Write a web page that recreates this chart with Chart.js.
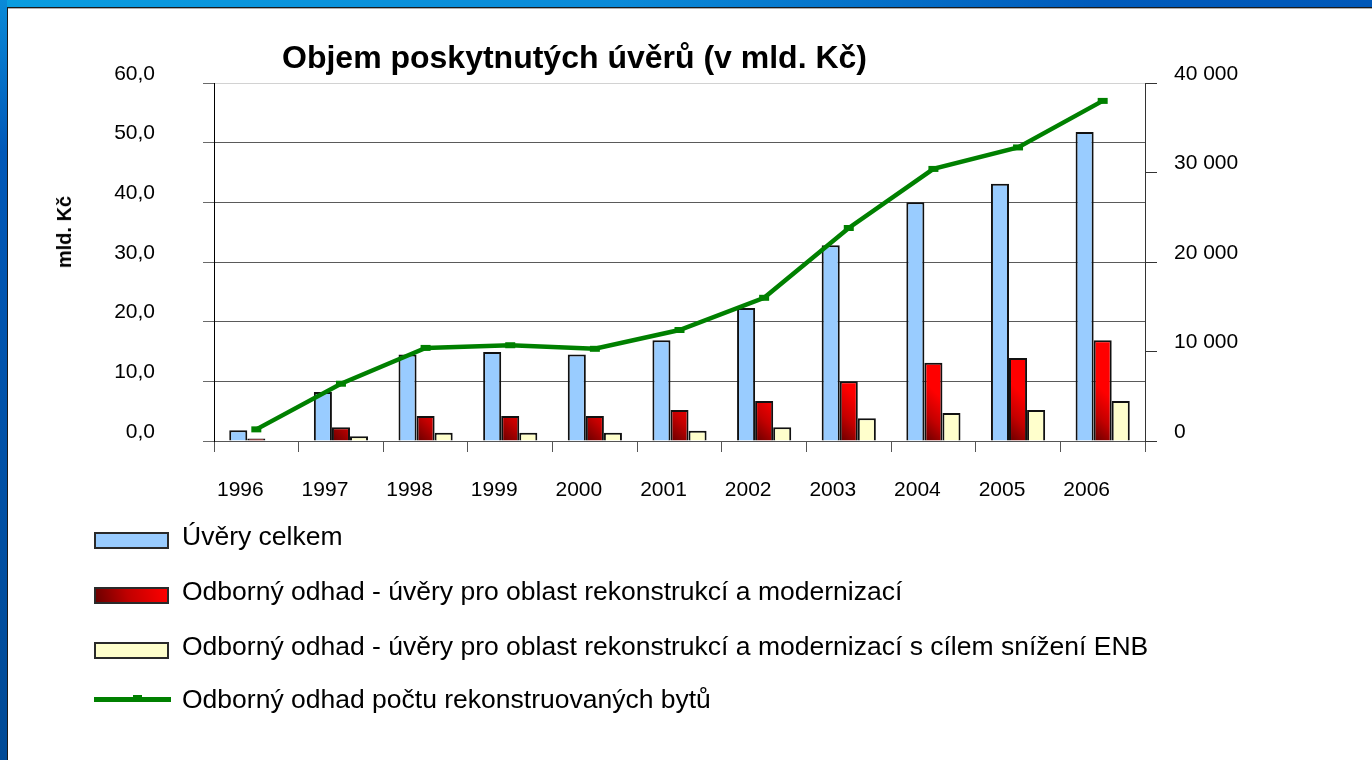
<!DOCTYPE html>
<html>
<head>
<meta charset="utf-8">
<script src="https://cdn.jsdelivr.net/npm/chart.js@4/dist/chart.umd.min.js"></script>
<style>
  html, body { margin: 0; padding: 0; width: 1372px; height: 760px; overflow: hidden; font-family: "Liberation Sans", Arial, sans-serif; }
  #frame { position: absolute; left: 0; top: 0; width: 1372px; height: 760px; }
  #topband { position: absolute; left: 0; top: 0; width: 1372px; height: 7px; background: linear-gradient(to right, #0a9de0 0%, #0a8ad8 45%, #005bbb 80%, #0058b8 100%); }
  #leftband { position: absolute; left: 0; top: 0; width: 7px; height: 760px; background: linear-gradient(to bottom, #0a8ad8 0%, #0058b8 20%, #004a96 100%); }
  #panel { position: absolute; left: 7px; top: 7px; right: 0; bottom: 0; background: #fff; border-top: 1px solid #1a1a1a; border-left: 1px solid #1a1a1a; box-shadow: inset 0 1px 0 #b0b0b0; }
  #chart { position: absolute; left: 0; top: 0; }
  .title { position: absolute; left: 282px; top: 41px; font-weight: bold; font-size: 32px; line-height: 32px; white-space: nowrap; color: #000; }
  .ytitle { position: absolute; left: 64px; top: 232px; font-weight: bold; font-size: 20px; line-height: 20px; white-space: nowrap; transform: translate(-50%, -50%) rotate(-90deg); color: #000; }
  .sw { position: absolute; left: 94px; width: 75px; height: 17px; border: 2px solid #2a2a2a; box-sizing: border-box; }
  .lt { position: absolute; left: 182px; font-size: 26.5px; line-height: 26px; white-space: nowrap; color: #000; }
  .ln { position: absolute; left: 94px; width: 77px; height: 5px; background: #008000; }
  .lnm { position: absolute; left: 133px; width: 9px; height: 7px; background: #008000; }
</style>
</head>
<body>
<div id="frame">
  <div id="topband"></div>
  <div id="leftband"></div>
  <div id="panel"></div>
</div>
<canvas id="chart" width="1372" height="760"></canvas>
<div class="title">Objem poskytnutých úvěrů (v mld. Kč)</div>
<div class="ytitle">mld. Kč</div>
<div id="legend"></div>
<script>
// ---- data ----
const years = ['1996', '1997', '1998', '1999', '2000', '2001', '2002', '2003', '2004', '2005', '2006'];
const uveryCelkem = [1.8, 8.2, 14.5, 14.9, 14.5, 16.9, 22.3, 32.8, 40.0, 43.1, 51.8];
const uveryRekonstrukce = [0.4, 2.3, 4.2, 4.2, 4.2, 5.2, 6.7, 10.0, 13.1, 13.9, 16.9];
const uveryENB = [0, 0.8, 1.4, 1.4, 1.4, 1.7, 2.3, 3.8, 4.7, 5.2, 6.7];
const pocetBytu = [1300, 6400, 10400, 10700, 10300, 12400, 16000, 23800, 30400, 32800, 38000];
const leftTicks = [0, 10, 20, 30, 40, 50, 60];
const rightTicks = [0, 10000, 20000, 30000, 40000];
const seriesNames = [
  'Úvěry celkem',
  'Odborný odhad - úvěry pro oblast rekonstrukcí a modernizací',
  'Odborný odhad - úvěry pro oblast rekonstrukcí a modernizací s cílem snížení ENB',
  'Odborný odhad počtu rekonstruovaných bytů'
];

// ---- legend (HTML) ----
const legendRows = [
  { top: 532, text: 523, kind: 'box', style: 'background:#99ccff' },
  { top: 587, text: 578, kind: 'box', style: 'background:linear-gradient(75deg,#6a0000 0%,#c00000 45%,#ff0000 100%)' },
  { top: 642, text: 633, kind: 'box', style: 'background:#ffffcc' },
  { top: 697, text: 686, kind: 'line' }
];
const lg = document.getElementById('legend');
legendRows.forEach((r, i) => {
  if (r.kind === 'box') {
    const d = document.createElement('div');
    d.className = 'sw'; d.style.cssText = 'top:' + r.top + 'px;' + r.style;
    lg.appendChild(d);
  } else {
    const d = document.createElement('div');
    d.className = 'ln'; d.style.top = r.top + 'px'; lg.appendChild(d);
    const m = document.createElement('div');
    m.className = 'lnm'; m.style.top = (r.top - 2) + 'px'; lg.appendChild(m);
  }
  const t = document.createElement('div');
  t.className = 'lt'; t.style.top = r.text + 'px'; t.textContent = seriesNames[i];
  lg.appendChild(t);
});

// ---- chart ----
const FONT = { family: '"Liberation Sans", Arial, sans-serif', size: 21 };

function redGradient(ctx) {
  const chart = ctx.chart;
  if (!chart.chartArea || ctx.type !== 'data') return '#cc0000';
  const xs = chart.scales.x, ys = chart.scales.y;
  const cx = xs.getPixelForValue(ctx.dataIndex);
  const left = cx - 9;
  const base = ys.getPixelForValue(0);
  const g = chart.ctx.createLinearGradient(left, base, left + 30, base - 30);
  g.addColorStop(0, '#660000');
  g.addColorStop(0.5, '#c40000');
  g.addColorStop(1, '#ff0000');
  return g;
}

new Chart(document.getElementById('chart'), {
  type: 'bar',
  data: {
    labels: years,
    datasets: [
      {
        type: 'line', label: seriesNames[3], data: pocetBytu, yAxisID: 'y2', order: 0,
        borderColor: '#008000', backgroundColor: '#008000', borderWidth: 4.5, tension: 0,
        pointStyle: 'line', pointRadius: 5, pointBorderWidth: 6, pointBorderColor: '#008000',
        borderCapStyle: 'butt', borderJoinStyle: 'miter'
      },
      {
        label: seriesNames[0], data: uveryCelkem, yAxisID: 'y', order: 1,
        backgroundColor: '#99ccff', borderColor: '#111', borderWidth: 2,
        categoryPercentage: 0.64, barPercentage: 1
      },
      {
        label: seriesNames[1], data: uveryRekonstrukce, yAxisID: 'y', order: 1,
        backgroundColor: redGradient, borderColor: '#111', borderWidth: 2,
        categoryPercentage: 0.64, barPercentage: 1
      },
      {
        label: seriesNames[2], data: uveryENB, yAxisID: 'y', order: 1,
        backgroundColor: '#ffffcc', borderColor: '#111', borderWidth: 2,
        categoryPercentage: 0.64, barPercentage: 1
      }
    ]
  },
  options: {
    responsive: false,
    devicePixelRatio: 1,
    animation: false,
    layout: { padding: { left: 64, right: 77, top: 83, bottom: 239 } },
    plugins: { legend: { display: false }, title: { display: false }, tooltip: { enabled: false } },
    scales: {
      x: {
        offset: true,
        grid: { offset: true, drawOnChartArea: false, drawTicks: true, tickLength: 11, color: '#555', tickColor: '#555' },
        border: { display: true, color: '#555', width: 1 },
        ticks: { font: FONT, color: '#000', padding: 26, labelOffset: -16, maxRotation: 0, autoSkip: false },
        afterFit: (s) => { s.height = 80; }
      },
      y: {
        position: 'left', min: 0, max: 60,
        afterBuildTicks: (s) => { s.ticks = leftTicks.map(v => ({ value: v })); },
        grid: {
          color: (c) => (c.tick && c.tick.value === 60) ? '#d2d2d2' : '#5a5a5a',
          tickColor: '#6a6a6a', tickLength: 11, lineWidth: 1
        },
        border: { display: true, color: '#000', width: 1 },
        ticks: {
          font: FONT, color: '#000', padding: 48, labelOffset: -9,
          callback: (v) => Number(v).toFixed(1).replace('.', ',')
        },
        afterFit: (s) => { s.width = 150; }
      },
      y2: {
        position: 'right', min: 0, max: 40000,
        afterBuildTicks: (s) => { s.ticks = rightTicks.map(v => ({ value: v })); },
        grid: { drawOnChartArea: false, tickLength: 12, tickColor: '#333', color: '#333' },
        border: { display: true, color: '#333', width: 1 },
        ticks: {
          font: FONT, color: '#000', padding: 17, labelOffset: -9,
          callback: (v) => v === 0 ? '0' : String(v).replace(/\B(?=(\d{3})+(?!\d))/g, ' ')
        },
        afterFit: (s) => { s.width = 150; }
      }
    }
  }
});
</script>
</body>
</html>
